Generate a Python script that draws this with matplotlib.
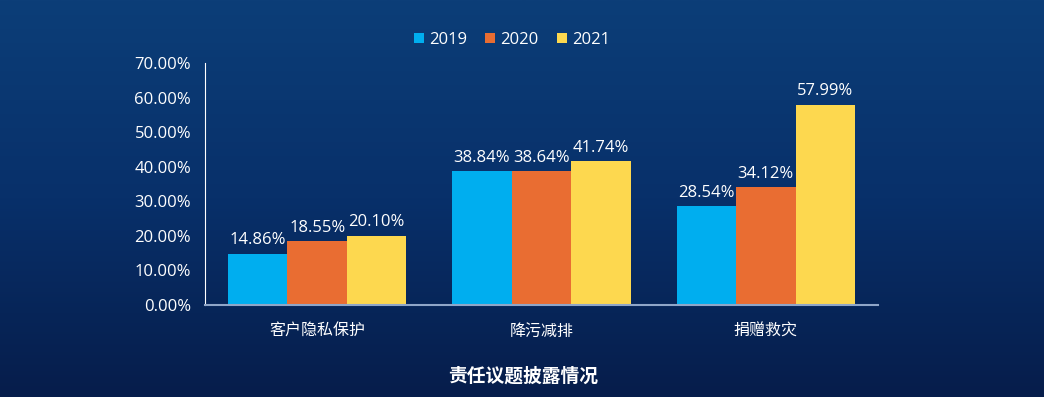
import numpy as np
import matplotlib.pyplot as plt
from matplotlib.colors import LinearSegmentedColormap

plt.rcParams['font.family'] = ['Open Sans', 'Noto Sans CJK SC', 'DejaVu Sans']

categories = ['客户隐私保护', '降污减排', '捐赠救灾']
years = ['2019', '2020', '2021']
v2019 = [14.86, 38.84, 28.54]
v2020 = [18.55, 38.64, 34.12]
v2021 = [20.10, 41.74, 57.99]
yticks = [0, 10, 20, 30, 40, 50, 60, 70]

colors = ['#00AEEF', '#E96D32', '#FDD84F']
cjk = ['Noto Sans CJK SC', 'DejaVu Sans']

fig = plt.figure(figsize=(10.44, 3.97), dpi=100)

# background gradient
bg = fig.add_axes([0, 0, 1, 1])
cmap = LinearSegmentedColormap.from_list('bg', ['#0C3E78', '#08306A', '#061D4B'])
grad = np.linspace(0, 1, 256).reshape(-1, 1)
bg.imshow(grad, aspect='auto', cmap=cmap, extent=[0, 1, 0, 1])
bg.axis('off')

ax = fig.add_axes([205 / 1044, 1 - 305 / 397, 673 / 1044, 242 / 397])
ax.patch.set_alpha(0)

x = np.arange(len(categories))
w = 0.265
for i, (vals, yr) in enumerate(zip([v2019, v2020, v2021], years)):
    bars = ax.bar(x + (i - 1) * w, vals, w, color=colors[i], label=yr)
    for b, v in zip(bars, vals):
        ax.text(b.get_x() + b.get_width() / 2, v + 1.5, f'{v:.2f}%',
                ha='center', va='bottom', color='white', fontsize=12)

ax.set_xlim(-0.5, 2.5)
ax.set_ylim(0, 70)
ax.set_yticks(yticks)
ax.set_yticklabels([f'{t:.2f}%' for t in yticks], color='white', fontsize=12)
ax.set_xticks(x)
ax.set_xticklabels(categories, color='white', fontsize=11.5, family=cjk)
ax.tick_params(length=0, pad=10)
ax.tick_params(axis='x', pad=13)
for s in ['top', 'right']:
    ax.spines[s].set_visible(False)
ax.spines['left'].set_color('white')
ax.spines['left'].set_linewidth(0.8)
ax.spines['bottom'].set_color('#8FA6C8')
ax.spines['bottom'].set_linewidth(1.5)

fig.legend(loc='center', bbox_to_anchor=(512 / 1044, 1 - 40 / 397), ncol=3,
           frameon=False, fontsize=12, labelcolor='white',
           handlelength=0.6, handleheight=0.6, handletextpad=0.3, columnspacing=1.1)

fig.text(523 / 1044, 1 - 376 / 397, '责任议题披露情况', ha='center', va='center',
         color='white', fontsize=13.5, fontweight='bold', family=cjk)

fig.savefig('out.png', dpi=100)
